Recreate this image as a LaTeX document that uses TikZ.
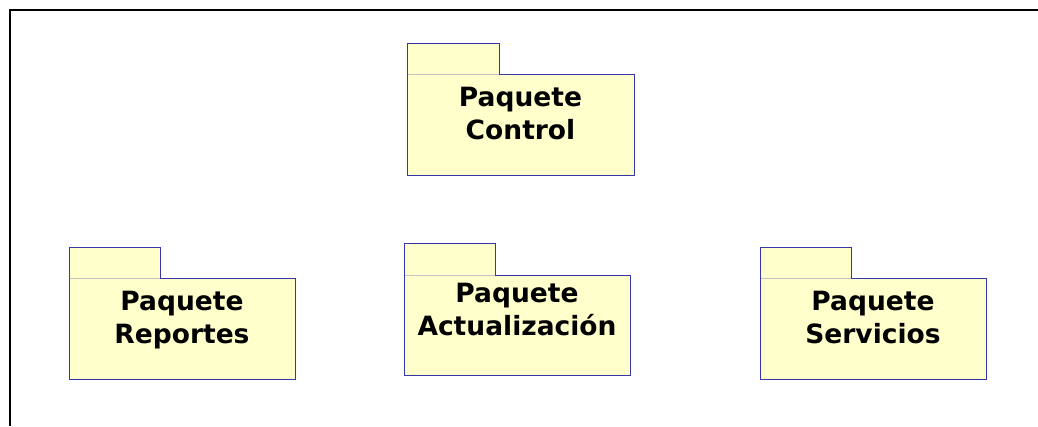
\documentclass[tikz,border=0pt]{standalone}
\usepackage{fontspec}
\setmainfont{DejaVu Sans}
\begin{document}
\begin{tikzpicture}[x=1pt,y=-1pt,
  pkgline/.style={draw={rgb,255:red,55;green,55;blue,170}, line width=1pt, fill={rgb,255:red,255;green,255;blue,204}},
  sepline/.style={draw={rgb,255:red,195;green,195;blue,195}, line width=0.8pt},
  lbl/.style={font=\fontsize{26.5}{33}\selectfont\bfseries, align=center, anchor=base, inner sep=0pt},
  frameline/.style={line width=1.8pt, black}]
\useasboundingbox (0,0) rectangle (1038,426);
% frame
\coordinate (ftop) at (1038,10);
\coordinate (fcorner) at (10,10);
\coordinate (fbot) at (10,426);
\draw[frameline] (ftop) -- (fcorner) -- (fbot);
% Control
\path[pkgline] (407,43) rectangle (499,74.5);
\path[pkgline] (407,74.5) rectangle (634,175);
\draw[sepline] (407.5,74.5) -- (498.5,74.5);
\node[lbl] (control) at (520.5,139) {Paquete\\Control};
% Reportes
\path[pkgline] (69,247) rectangle (160,278);
\path[pkgline] (69,278) rectangle (295,379);
\draw[sepline] (69.5,278) -- (159.5,278);
\node[lbl] (reportes) at (182,343) {Paquete\\Reportes};
% Actualizacion
\path[pkgline] (404,243) rectangle (495,275);
\path[pkgline] (404,275) rectangle (630,375);
\draw[sepline] (404.5,275) -- (494.5,275);
\node[lbl] (actualizacion) at (517,335) {Paquete\\Actualización};
% Servicios
\path[pkgline] (760,247) rectangle (851,278);
\path[pkgline] (760,278) rectangle (986,379);
\draw[sepline] (760.5,278) -- (850.5,278);
\node[lbl] (servicios) at (873,343) {Paquete\\Servicios};
\end{tikzpicture}
\end{document}
